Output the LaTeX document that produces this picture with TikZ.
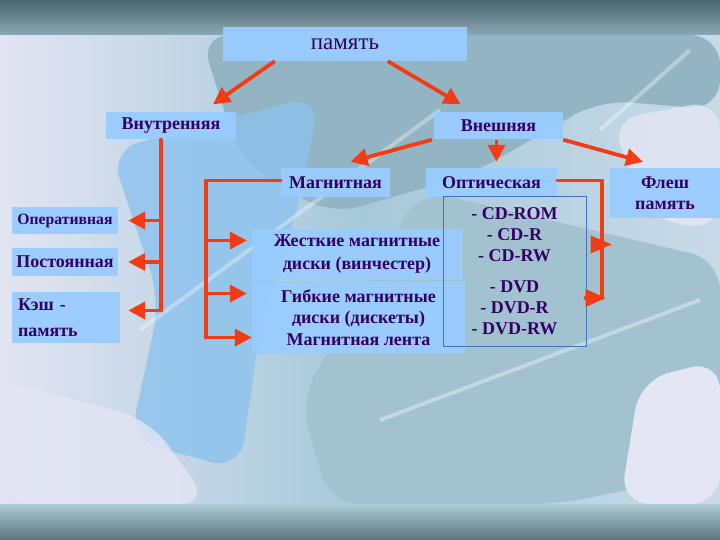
\documentclass[tikz,border=0pt]{standalone}
\usepackage{fontspec}
\setmainfont{Liberation Serif}
\usetikzlibrary{arrows.meta}
\definecolor{boxblue}{HTML}{99CCFF}
\definecolor{ink}{HTML}{330066}
\definecolor{arrowred}{HTML}{F23C14}
\definecolor{listline}{HTML}{3F74C4}
\definecolor{bgleft}{HTML}{E2E4F2}
\definecolor{bgmid}{HTML}{A6C9DA}
\definecolor{bgright}{HTML}{C9DAE7}
\definecolor{leafteal}{HTML}{93B5C3}
\definecolor{leafblue}{HTML}{8CC2EE}
\definecolor{leafgrey}{HTML}{A2C2CF}
\definecolor{leafpale}{HTML}{E4E6F4}
\definecolor{bandtop}{HTML}{4B6571}
\definecolor{bandlow}{HTML}{8AA8B3}
\definecolor{bandpale}{HTML}{AECCD3}
\definecolor{banddark}{HTML}{5A747F}
\begin{document}
\begin{tikzpicture}[x=1pt,y=-1pt,
    box/.style={fill=boxblue,fill opacity=0.95,text opacity=1,text=ink,inner sep=0pt,align=center,
      font=\bfseries\fontsize{18}{21}\selectfont},
    wire/.style={draw=arrowred,line width=3.8pt,line cap=round,line join=round},
    link/.style={wire,line cap=butt,-{Triangle[length=17pt,width=17pt]}},
    leaf/.style={draw=none,rounded corners=30pt}]
  \shade[left color=bgleft,right color=bgright,middle color=bgmid] (0,35) rectangle (720,504);
  \fill[leaf,fill=leafteal] (200,35) -- (720,35) -- (720,110) -- (600,100)
    -- (470,175) -- (330,215) -- (240,160) -- cycle;
  \fill[leaf,fill=leafblue,fill opacity=0.8] (110,150) -- (320,95) -- (300,200) -- (260,330)
    -- (240,470) -- (130,440) -- (160,300) -- cycle;
  \fill[leaf,fill=leafgrey] (420,190) -- (720,260) -- (720,470) -- (560,504)
    -- (330,504) -- (300,400) -- cycle;
  \fill[leaf,fill=leafpale,fill opacity=0.8] (0,380) -- (150,420) -- (210,504) -- (0,504) -- cycle;
  \fill[leaf,fill=leafpale] (640,380) -- (720,360) -- (720,504) -- (620,504) -- cycle;
  \fill[leaf,fill=leafpale,fill opacity=0.8] (610,120) -- (720,100) -- (720,230) -- (650,220) -- cycle;
  \draw[white,opacity=0.35,line width=4pt] (140,330) -- (440,110);
  \draw[white,opacity=0.35,line width=4pt] (600,130) -- (690,50);
  \draw[white,opacity=0.35,line width=4pt] (380,420) -- (700,300);
  \shade[top color=bandtop,bottom color=bandlow] (0,0) rectangle (720,35);
  \shade[top color=bandpale,bottom color=banddark] (0,504) rectangle (720,540);

  \node[box,minimum width=244pt,minimum height=34pt,font=\fontsize{23}{26}\selectfont] (mem) at (345,44) {память};
  \node[box,minimum width=130pt,minimum height=27pt] (vnutr) at (171,126) {Внутренняя};
  \node[box,minimum width=129pt,minimum height=27pt] (vnesh) at (498.5,126) {Внешняя};
  \node[box,minimum width=109pt,minimum height=29pt] (magn) at (335.5,182.5) {Магнитная};
  \node[box,minimum width=131pt,minimum height=29pt] (opt) at (491.5,182.5) {Оптическая};
  \node[box,minimum width=110pt,minimum height=50pt] (flesh) at (665,193) {Флеш\\память};
  \node[box,minimum width=106pt,minimum height=27pt,font=\bfseries\fontsize{15.7}{18}\selectfont] (oper) at (65,220.5) {Оперативная};
  \node[box,minimum width=106pt,minimum height=28pt] (post) at (65,262) {Постоянная};
  \node[box,minimum width=108pt,minimum height=51pt,text width=96pt,inner xsep=6pt,align=left,
    font=\bfseries\fontsize{18}{26}\selectfont] (kesh) at (66,317.5) {Кэш -\\память};
  \node[box,minimum width=210pt,minimum height=51pt,font=\bfseries\fontsize{18}{23}\selectfont] (zhest) at (357,254.5) {Жесткие магнитные\\диски (винчестер)};
  \node[box,minimum width=213pt,minimum height=73pt,font=\bfseries\fontsize{18}{21.5}\selectfont] (gibk) at (358.5,317.5) {Гибкие магнитные\\диски (дискеты)\\Магнитная лента};
  \node[draw=listline,line width=1pt,minimum width=143pt,minimum height=149pt,text=ink,align=center,
    font=\bfseries\fontsize{18}{21}\selectfont] (optlist) at (514.5,271.5)
    {- CD-ROM\\- CD-R\\- CD-RW\\[10pt]- DVD\\- DVD-R\\- DVD-RW};

  \draw[link] ([xshift=52pt]mem.south west) -- ([xshift=42pt,yshift=8pt]vnutr.north);
  \draw[link] ([xshift=165pt]mem.south west) -- ([xshift=27pt,yshift=8pt]vnesh.north west);

  \coordinate (vt) at ([xshift=-10pt]vnutr.south);
  \coordinate (k1) at ([yshift=7pt]kesh.east);
  \draw[wire] (vt) -- (vt |- k1);
  \draw[link] (vt |- oper.east) -- ([xshift=10pt]oper.east);
  \draw[link] (vt |- post.east) -- ([xshift=10pt]post.east);
  \draw[link] (vt |- k1) -- ([xshift=8pt]k1);

  \draw[link] ([xshift=-2pt]vnesh.south west) -- ([xshift=15pt,yshift=6pt]magn.north);
  \draw[link] ([xshift=-2pt]vnesh.south) -- ([xshift=5pt,yshift=6pt]opt.north);
  \draw[link] (vnesh.south east) -- ([xshift=-22pt,yshift=6pt]flesh.north);

  \coordinate (mt) at ([xshift=-75pt,yshift=2pt]magn.west);
  \coordinate (m1) at ([yshift=14pt]zhest.west);
  \coordinate (m2) at ([yshift=24pt]gibk.west);
  \coordinate (m3) at ([yshift=-20pt]gibk.west);
  \draw[wire] ([yshift=2pt]magn.west) -- (mt) -- (mt |- m3);
  \draw[link] (mt |- m1) -- ([xshift=-5pt]m1);
  \draw[link] (mt |- m2) -- ([xshift=-5pt]m2);
  \draw[link] (mt |- m3) -- (m3);

  \coordinate (ot) at ([xshift=45pt,yshift=2pt]opt.east);
  \coordinate (od1) at ([xshift=4pt,yshift=27pt]optlist.east);
  \coordinate (od2) at ([xshift=-1pt,yshift=-26.5pt]optlist.east);
  \draw[wire] ([yshift=2pt]opt.east) -- (ot) -- (ot |- od2) -- (od2);
  \fill[arrowred] (od1) ++(0,-9) -- ++(21,9) -- ++(-21,9) -- cycle;
  \fill[arrowred] (od2) ++(0,-9) -- ++(20,9) -- ++(-20,9) -- cycle;
\end{tikzpicture}
\end{document}
